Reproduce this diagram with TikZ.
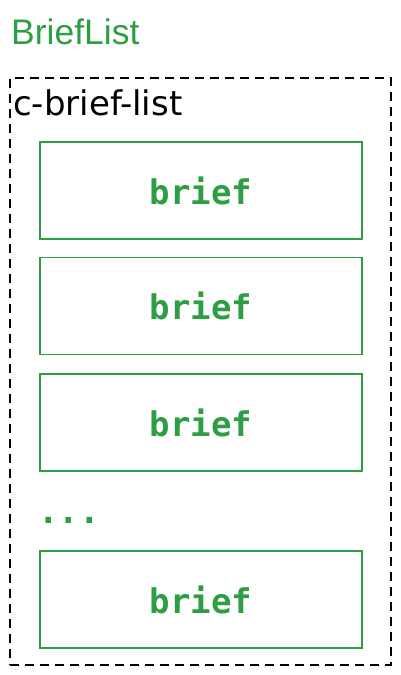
\documentclass[tikz,border=0pt]{standalone}
\usepackage{fontspec}
\setmainfont{Liberation Sans}
\newfontfamily\codefont{DejaVu Sans Mono}
\newfontfamily\handfont{DejaVu Sans}
\definecolor{briefgreen}{RGB}{46,158,68}
\tikzset{
  briefbox/.style={draw=briefgreen, line width=1.6pt, minimum width=322pt, minimum height=97pt,
    text=briefgreen, font=\codefont\bfseries\fontsize{34}{38}\selectfont},
}
\begin{document}
\begin{tikzpicture}[x=1pt,y=-1pt]
\useasboundingbox (0,0) rectangle (401,675);
\node[anchor=base west, text=briefgreen, inner sep=0pt, font=\fontsize{35.5}{40}\selectfont] (title) at (11,44) {BriefList};

\node[draw, line width=2.2pt, dash pattern=on 9pt off 6pt, minimum width=381pt, minimum height=587pt, inner sep=0pt] (list) at (200.5,371.5) {};
\node[anchor=base west, inner sep=0pt, font=\handfont\fontsize{34}{38}\selectfont] (listlabel) at (13,115) {c-brief-list};

\node[briefbox] (b1) at (201,190.5) {brief};
\node[briefbox] (b2) at (201,306) {brief};
\node[briefbox] (b3) at (201,422.5) {brief};
\node[anchor=base west, inner sep=0pt, text=briefgreen, font=\codefont\bfseries\fontsize{34}{38}\selectfont] (dots) at (38,523) {...};
\node[briefbox] (b4) at (201,599.5) {brief};
\end{tikzpicture}
\end{document}
